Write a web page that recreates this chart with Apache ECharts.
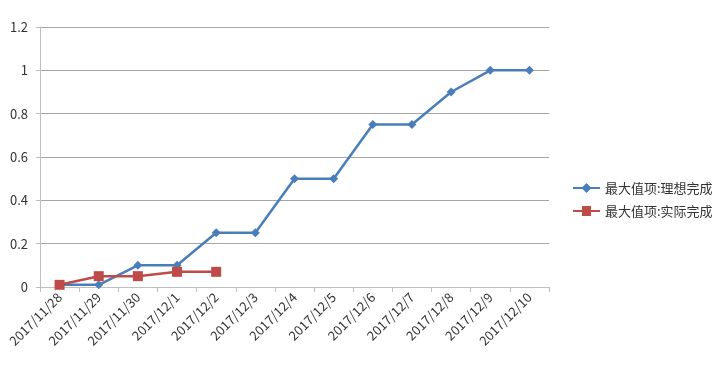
<!DOCTYPE html>
<html><head><meta charset="utf-8">
<script src="https://cdn.jsdelivr.net/npm/echarts@6/dist/echarts.min.js"></script>
<style>html,body{margin:0;padding:0;background:#fff}#c{width:720px;height:375px}</style>
</head><body><div id="c"></div>
<script>
var categories = ['2017/11/28','2017/11/29','2017/11/30','2017/12/1','2017/12/2','2017/12/3','2017/12/4','2017/12/5','2017/12/6','2017/12/7','2017/12/8','2017/12/9','2017/12/10'];
var idealValues = [0.01,0.01,0.1,0.1,0.25,0.25,0.5,0.5,0.75,0.75,0.9,1,1];
var actualValues = [0.01,0.05,0.05,0.07,0.07];
var seriesNames = ['最大值项:理想完成','最大值项:实际完成'];
var yTicks = [0,0.2,0.4,0.6,0.8,1,1.2];

var font = '"Noto Sans CJK SC", sans-serif';
var chart = echarts.init(document.getElementById('c'));
chart.setOption({
  animation:false,
  grid:{left:40,right:171,top:27,bottom:88,containLabel:false},
  legend:{
    orient:'vertical', left:568, top:174, itemGap:5, itemWidth:27, itemHeight:10,
    textStyle:{fontFamily:font,fontSize:13,color:'#333333',lineHeight:18},
    data:[{name:seriesNames[0],icon:'path://M0,3.9L9.5,3.9L13.5,0L17.5,3.9L27,3.9L27,6.1L17.5,6.1L13.5,10L9.5,6.1L0,6.1Z'},
          {name:seriesNames[1],icon:'path://M0,3.9L9,3.9L9,0L18,0L18,3.9L27,3.9L27,6.1L18,6.1L18,10L9,10L9,6.1L0,6.1Z'}]
  },
  xAxis:{
    type:'category', data:categories, boundaryGap:true,
    axisLine:{lineStyle:{color:'#bfbfbf'}},
    axisTick:{show:true,length:5,lineStyle:{color:'#bfbfbf'}},
    axisLabel:{rotate:45,fontFamily:font,fontSize:13,color:'#333333',margin:8,interval:0}
  },
  yAxis:{
    type:'value', min:0, max:1.2, interval:0.2,
    axisLine:{show:true,lineStyle:{color:'#bfbfbf'}},
    axisTick:{show:true,length:4,lineStyle:{color:'#bfbfbf'}},
    splitLine:{lineStyle:{color:'#a6a6a6'}},
    axisLabel:{fontFamily:font,fontSize:13,color:'#333333',margin:12,
      formatter:function(v){return String(Math.round(v*10)/10);}}
  },
  series:[
    {name:seriesNames[0],type:'line',data:idealValues,symbol:'diamond',symbolSize:9,
     lineStyle:{color:'#4a7ebb',width:2.5},itemStyle:{color:'#4a7ebb'}},
    {name:seriesNames[1],type:'line',data:actualValues,symbol:'rect',symbolSize:10,
     lineStyle:{color:'#be4b48',width:2.5},itemStyle:{color:'#be4b48'}}
  ]
});
</script></body></html>
